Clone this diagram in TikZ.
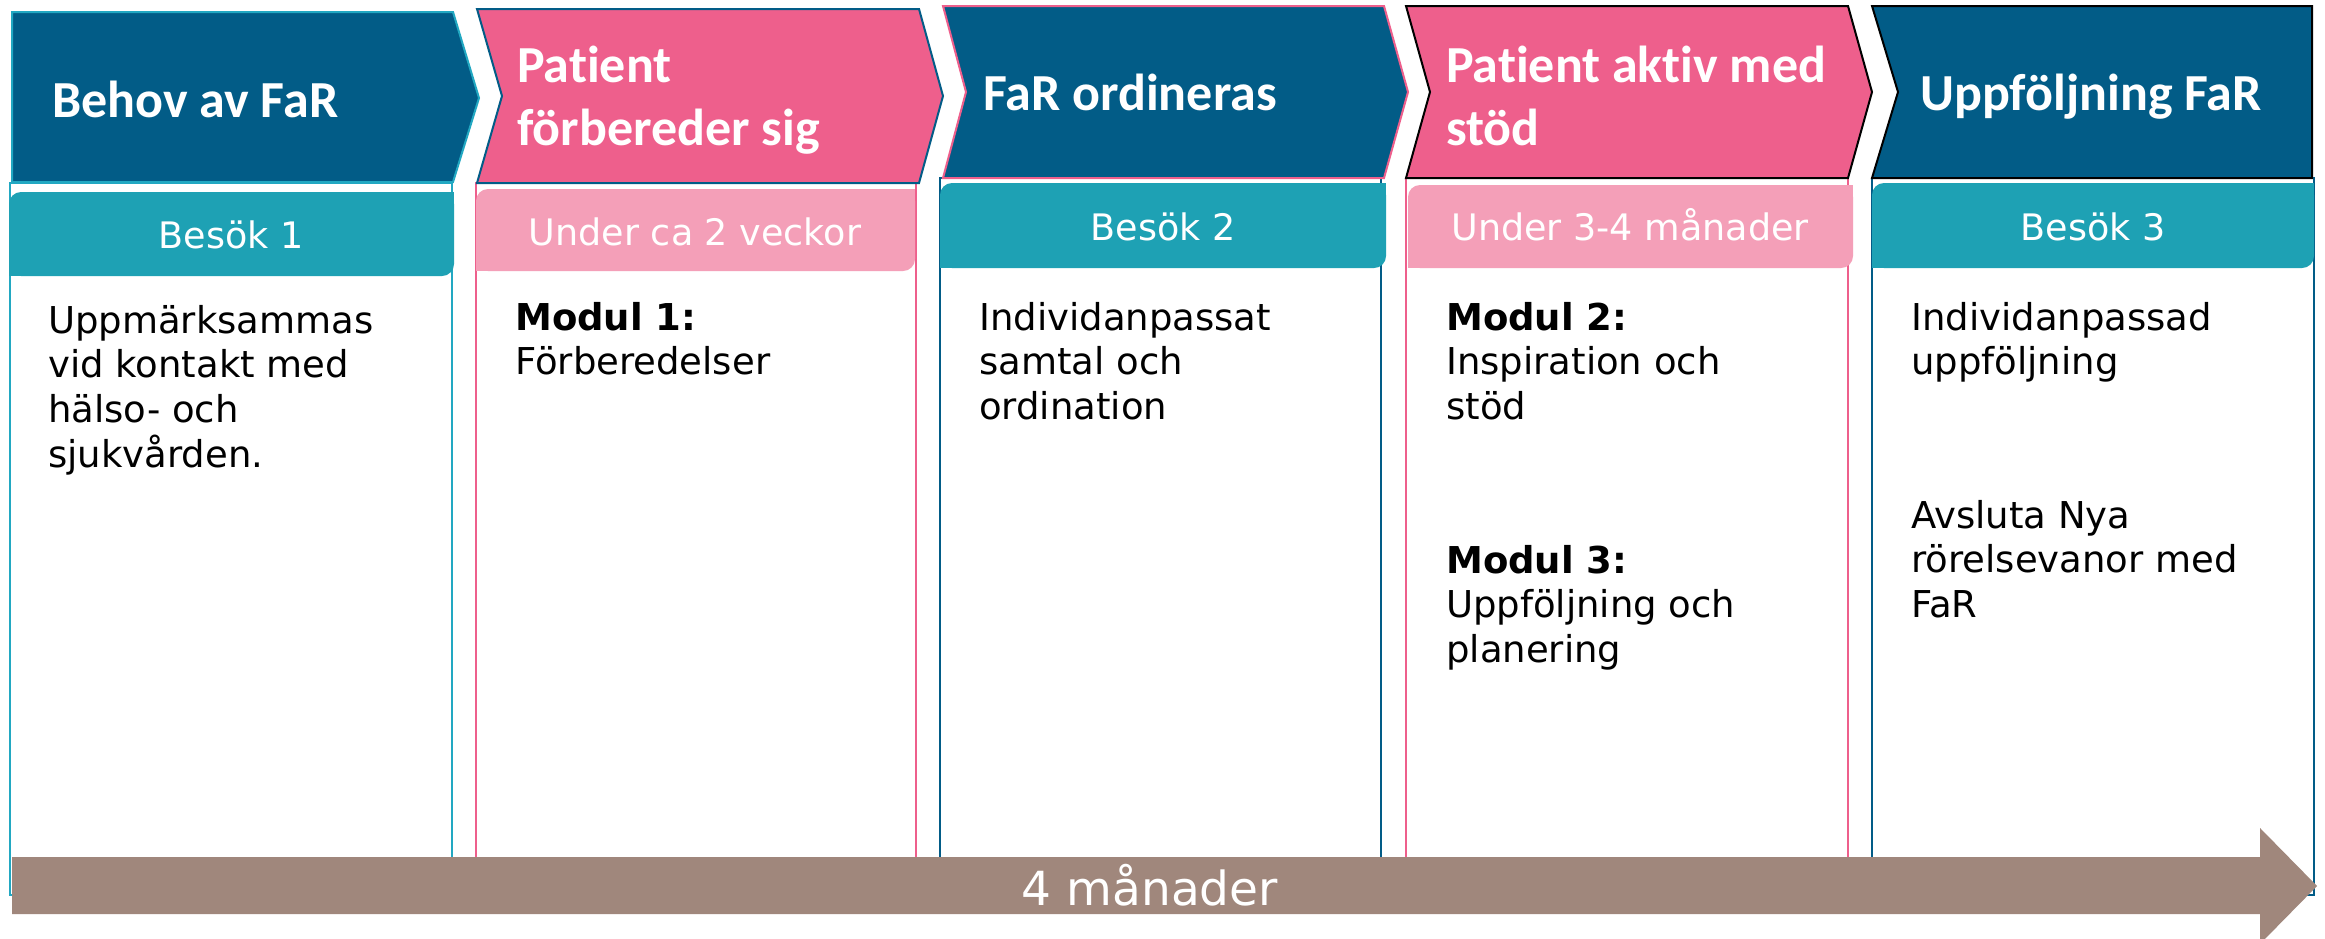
\documentclass[tikz,border=0pt]{standalone}
\usepackage{fontspec}
\setmainfont{DejaVu Sans}
\newfontfamily\headfont{Carlito}[Ligatures={NoCommon,NoRare,NoContextual}]
\definecolor{dblue}{HTML}{025C87}
\definecolor{cpink}{HTML}{EE5F8C}
\definecolor{lpink}{HTML}{F49FB8}
\definecolor{cteal}{HTML}{1EA1B4}
\definecolor{bteal}{HTML}{22A8C2}
\definecolor{abrown}{HTML}{A0877C}
\newcommand\mylines[1]{\begin{tabular}[t]{@{}l@{}}#1\end{tabular}}
\newcommand\roundbar[5]{%
  \fill[#1, rounded corners=12pt] (#2,#3) rectangle (#4,#5);
  \fill[#1] (#4-14,#3) rectangle (#4,#3+14);
  \fill[#1] (#2,#5-14) rectangle (#2+14,#5);
}
\begin{document}
\begin{tikzpicture}[x=1pt,y=-1pt,
  colbox/.style={fill=white, line width=2pt},
  chev/.style={line width=2pt, line join=miter},
  headtxt/.style={anchor=base west, inner sep=0pt, text=white,
    font=\fontsize{52}{63}\headfont\bfseries\selectfont},
  bartxt/.style={anchor=base, inner sep=0pt, text=white,
    font=\fontsize{36.5}{44.5}\selectfont},
  bodytxt/.style={anchor=base west, inner sep=0pt, text=black,
    font=\fontsize{37}{44.5}\selectfont},
  arrowtxt/.style={anchor=base, inner sep=0pt, text=white,
    font=\fontsize{47}{56}\selectfont}]
\useasboundingbox (0,0) rectangle (2325,938);
\fill[white] (0,0) rectangle (2325,938);

% column boxes
\draw[colbox, draw=bteal] (10,183) rectangle (452,895);
\draw[colbox, draw=cpink] (476,183) rectangle (916,895);
\draw[colbox, draw=dblue] (940,178) rectangle (1381,895);
\draw[colbox, draw=cpink] (1406,178) rectangle (1848,895);
\draw[colbox, draw=dblue] (1872,178) rectangle (2314,895);

% chevrons
\draw[chev, fill=dblue, draw=bteal] (12,12) -- (453,12) -- (479,98) -- (453,182) -- (12,182) -- cycle;
\draw[chev, fill=cpink, draw=dblue] (477,9) -- (919,9) -- (943,96) -- (919,183) -- (477,183) -- (502,96) -- cycle;
\draw[chev, fill=dblue, draw=cpink] (943,6) -- (1384,6) -- (1408,92) -- (1384,178) -- (943,178) -- (966,92) -- cycle;
\draw[chev, fill=cpink, draw=black] (1406,6) -- (1848,6) -- (1872,92) -- (1848,178) -- (1406,178) -- (1430,92) -- cycle;
\draw[chev, fill=dblue, draw=black] (1872,6) -- (2312,6) -- (2312,178) -- (1872,178) -- (1898,92) -- cycle;

% bars
\roundbar{cteal}{9}{192}{454}{276}
\roundbar{lpink}{476}{189}{915}{271}
\roundbar{cteal}{940}{183}{1386}{268}
\roundbar{lpink}{1408}{185}{1853}{268}
\roundbar{cteal}{1872}{183}{2314}{268}

% header texts
\node[headtxt] (h1) at (52,117) {Behov av FaR};
\node[headtxt] (h2) at (517,82) {\mylines{Patient\\förbereder sig}};
\node[headtxt] (h3) at (983,110) {FaR ordineras};
\node[headtxt] (h4) at (1446,82) {\mylines{Patient aktiv med\\stöd}};
\node[headtxt] (h5) at (1920,110) {Uppföljning FaR};

% bar texts
\node[bartxt] (b1) at (231,248) {Besök 1};
\node[bartxt] (b2) at (695,245) {Under ca 2 veckor};
\node[bartxt] (b3) at (1163,240) {Besök 2};
\node[bartxt] (b4) at (1630,240) {Under 3-4 månader};
\node[bartxt] (b5) at (2093,240) {Besök 3};

% body texts
\node[bodytxt] (t1) at (48,333) {\mylines{Uppmärksammas\\vid kontakt med\\hälso- och\\sjukvården.}};
\node[bodytxt] (t2) at (515,330) {\mylines{\textbf{Modul 1:}\\Förberedelser}};
\node[bodytxt] (t3) at (979,330) {\mylines{Individanpassat\\samtal och\\ordination}};
\node[bodytxt] (t4a) at (1446,330) {\mylines{\textbf{Modul 2:}\\Inspiration och\\stöd}};
\node[bodytxt] (t4b) at (1446,573) {\mylines{\textbf{Modul 3:}\\Uppföljning och\\planering}};
\node[bodytxt] (t5a) at (1911,330) {\mylines{Individanpassad\\uppföljning}};
\node[bodytxt] (t5b) at (1911,528) {\mylines{Avsluta Nya\\rörelsevanor med\\FaR}};

% timeline arrow
\fill[abrown] (12,857) -- (2260,857) -- (2260,828) -- (2317,886) -- (2260,944) -- (2260,914) -- (12,914) -- cycle;
\node[arrowtxt] (al) at (1150,905) {4 månader};
\end{tikzpicture}
\end{document}
